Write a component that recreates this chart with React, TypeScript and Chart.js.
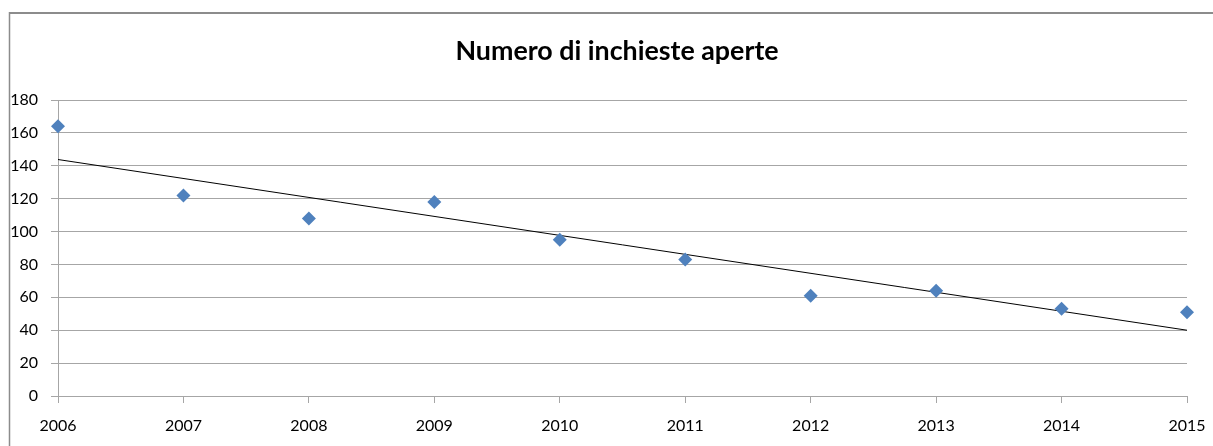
import React, { useEffect, useRef } from "react";
import { Chart, registerables } from "chart.js";

Chart.register(...registerables);

const title = "Numero di inchieste aperte";
const years = [2006, 2007, 2008, 2009, 2010, 2011, 2012, 2013, 2014, 2015];
const inchieste = [164, 122, 108, 118, 95, 83, 61, 64, 53, 51];
const yTicks = [0, 20, 40, 60, 80, 100, 120, 140, 160, 180];

function trend(xs: number[], ys: number[]) {
  const n = xs.length;
  const mx = xs.reduce((a, b) => a + b, 0) / n;
  const my = ys.reduce((a, b) => a + b, 0) / n;
  let sxy = 0;
  let sxx = 0;
  for (let i = 0; i < n; i++) {
    sxy += (xs[i] - mx) * (ys[i] - my);
    sxx += (xs[i] - mx) * (xs[i] - mx);
  }
  const b = sxy / sxx;
  const a = my - b * mx;
  return [
    { x: xs[0], y: a + b * xs[0] },
    { x: xs[n - 1], y: a + b * xs[n - 1] },
  ];
}

const frameAndTitle = {
  id: "frameAndTitle",
  afterDraw(chart: any) {
    const ctx = chart.ctx;
    ctx.save();
    ctx.strokeStyle = "#8c8c8c";
    ctx.lineWidth = 2;
    ctx.beginPath();
    ctx.moveTo(9, 13);
    ctx.lineTo(chart.width, 13);
    ctx.stroke();
    ctx.lineWidth = 1.5;
    ctx.beginPath();
    ctx.moveTo(9.5, 12);
    ctx.lineTo(9.5, chart.height);
    ctx.stroke();
    ctx.fillStyle = "#000";
    ctx.font = "bold 26.8px Lato";
    ctx.textAlign = "center";
    ctx.textBaseline = "alphabetic";
    ctx.fillText(title, 617, 60);
    ctx.restore();
  },
};

export default function App() {
  const ref = useRef<HTMLCanvasElement | null>(null);
  useEffect(() => {
    if (!ref.current) return;
    const chart = new Chart(ref.current, {
      type: "scatter",
      data: {
        datasets: [
          {
            label: "Inchieste",
            data: years.map((x, i) => ({ x, y: inchieste[i] })),
            pointStyle: "rectRot",
            pointRadius: 7,
            backgroundColor: "#4F81BD",
            borderColor: "#4A7EBB",
            borderWidth: 0,
            clip: false,
            order: 1,
          } as any,
          {
            label: "Tendenza",
            type: "line",
            data: trend(years, inchieste),
            borderColor: "#000",
            borderWidth: 1,
            pointRadius: 0,
            order: 2,
          } as any,
        ],
      },
      options: {
        responsive: false,
        animation: false,
        layout: { padding: { top: 100, right: 26, left: 0, bottom: 0 } },
        plugins: {
          legend: { display: false },
          tooltip: { enabled: false },
          title: { display: false },
        },
        scales: {
          x: {
            type: "linear",
            min: 2006,
            max: 2015,
            afterFit: (s: any) => {
              s.height = 50;
              s.paddingLeft = 0;
              s.paddingRight = 0;
            },
            afterBuildTicks: (s: any) => {
              s.ticks = years.map((v) => ({ value: v }));
            },
            ticks: {
              color: "#000",
              font: { family: "Lato", size: 16 },
              padding: 13,
              maxRotation: 0,
              callback: (v: any) => String(v),
            },
            grid: {
              drawOnChartArea: false,
              drawTicks: true,
              tickLength: 7,
              color: "#a6a6a6",
            },
            border: { color: "#a6a6a6", width: 1 },
          },
          y: {
            min: 0,
            max: 180,
            afterFit: (s: any) => {
              s.width = 58;
            },
            afterBuildTicks: (s: any) => {
              s.ticks = yTicks.map((v) => ({ value: v }));
            },
            ticks: {
              color: "#000",
              font: { family: "Lato", size: 16 },
              padding: 13,
              callback: (v: any) => String(v),
            },
            grid: {
              color: "#a6a6a6",
              tickLength: 7,
              lineWidth: 1,
            },
            border: { color: "#a6a6a6", width: 1 },
          },
        },
      },
      plugins: [frameAndTitle],
    });
    return () => chart.destroy();
  }, []);
  return (
    <div style={{ position: "absolute", left: 0, top: 0, width: 1213, height: 446, background: "#fff" }}>
      <canvas ref={ref} width={1213} height={446} />
    </div>
  );
}
